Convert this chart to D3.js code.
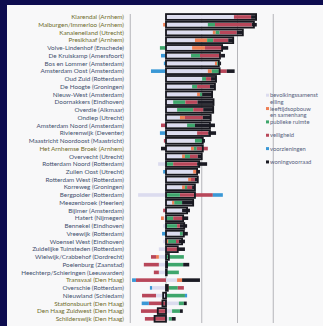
<!DOCTYPE html>
<html>
<head>
<meta charset="utf-8">
<script src="https://cdn.jsdelivr.net/npm/d3@7"></script>
<style>
body { margin: 0; background: #0d0c4f; }
svg { display: block; }
</style>
</head>
<body>
<div id="chart"></div>
<script>
var width = 323,
	height = 326;

// wijken, van boven naar beneden
var wijken = [
	"Klarendal (Arnhem)", "Malburgen/Immerloo (Arnhem)", "Kanaleneiland (Utrecht)", "Presikhaaf (Arnhem)",
	"Volve-Lindenhof (Enschede)", "De Kruiskamp (Amersfoort)", "Bos en Lommer (Amsterdam)", "Amsterdam Oost (Amsterdam)",
	"Oud Zuid (Rotterdam)", "De Hoogte (Groningen)", "Nieuw-West (Amsterdam)", "Doornakkers (Eindhoven)",
	"Overdie (Alkmaar)", "Ondiep (Utrecht)", "Amsterdam Noord (Amsterdam)", "Rivierenwijk (Deventer)",
	"Maastricht Noordoost (Maastricht)", "Het Arnhemse Broek (Arnhem)", "Overvecht (Utrecht)", "Rotterdam Noord (Rotterdam)",
	"Zuilen Oost (Utrecht)", "Rotterdam West (Rotterdam)", "Korreweg (Groningen)", "Bergpolder (Rotterdam)",
	"Meezenbroek (Heerlen)", "Bijlmer (Amsterdam)", "Hatert (Nijmegen)", "Bennekel (Eindhoven)",
	"Vreewijk (Rotterdam)", "Woensel West (Eindhoven)", "Zuidelijke Tuinsteden (Rotterdam)", "Wielwijk/Crabbehof (Dordrecht)",
	"Poelenburg (Zaanstad)", "Heechterp/Schieringen (Leeuwarden)", "Transvaal (Den Haag)", "Overschie (Rotterdam)",
	"Nieuwland (Schiedam)", "Stationsbuurt (Den Haag)", "Den Haag Zuidwest (Den Haag)", "Schilderswijk (Den Haag)"
];

var dimensies = ["bevolkingssamenstelling", "leeftijdsopbouw en samenhang", "publieke ruimte", "veiligheid", "voorzieningen", "woningvoorraad"];

// bijdrage per dimensie, zelfde volgorde als wijken
var bevolking = [19.0, 11.7, 13.1, 8.1, 7.3, 7.0, 13.7, 11.7, 10.1, 7.3, 8.7, 2.0, 3.1, 3.9, 5.9, 8.7, 8.1, 7.0, 4.5, -2.2,
	7.6, 6.2, 4.5, -7.8, 1.7, 4.5, -0.6, -0.8, 3.9, -0.8, -2.0, -2.0, -2.0, -2.0, 3.1, -3.9, -2.8, 3.6, 1.7, 0.8];
var leeftijd = [0, -0.8, 0.8, 3.4, 3.6, 0, 0.6, 1.1, 0, 0, 0.8, 0, 0, 1.4, 0, 0, 0, 0.8, 0.8, 0,
	1.1, 0.8, 0.8, 0, 0.6, 0, -0.8, 0, 0, 0.6, 0, -0.8, 0, 0, 1.4, 0.8, 0, 0, 0, 0];
var publiek = [0, 2.0, 1.1, 1.7, -1.7, 2.5, 0.8, 2.0, 1.1, 1.4, 0.6, 3.4, 4.5, 0, 2.2, 0, 2.0, 0.8, 1.4, 2.0,
	0, 0, 0.6, 3.9, 2.2, 0, 2.0, 3.1, 0.8, 2.2, 0, 5.0, 4.8, 3.6, 0, 2.5, 5.3, 1.4, 2.2, 0.8];
var veiligheid = [4.8, 10.3, 4.8, 4.2, 4.8, 5.9, 0, 2.2, 1.4, 3.6, 0, 3.4, 2.8, 5.0, -1.4, 3.1, -0.6, 3.1, 2.2, 6.7,
	0, 1.1, 1.4, 9.2, 0, -0.8, 2.8, 0.8, 0, 0.8, 3.1, -1.4, -4.2, -1.4, -8.4, 1.7, -3.9, -4.8, -7.0, -5.9];
var voorzieningen = [0, 0, 0, 0, 0, -1.4, -0.6, -4.2, 0, 0, 0, 0, 0, 0, 0, -1.7, 0, 0, 0, 0,
	-0.8, 0, 0, 2.8, 0, 0, 0, 0, -1.1, 0, 0, 0, 0, 0, -1.1, -0.6, 0.6, -2.0, 0, 0];
var woningen = [1.4, 1.4, 1.7, 1.4, 1.7, 1.1, 0.3, 2.2, 1.4, 1.4, 2.8, 4.5, 2.8, 2.2, 5.6, 2.2, 0.8, -1.4, 1.1, 2.8,
	0.8, 0.8, 0.8, 0, 3.1, 2.2, 1.4, 2.0, 1.4, 1.7, 2.2, 0, 1.7, 0, 5.0, 0, 0, 0.8, 0.8, 1.1];

var ticks = [-10, 0, 10, 20, 30];

var legendLabels = [["bevolkingssamenst", "elling"], ["leeftijdsopbouw", "en samenhang"], ["publieke ruimte"],
	["veiligheid"], ["voorzieningen"], ["woningvoorraad"]];

var kleuren = ["#dcdcef", "#ef7f55", "#3ea66c", "#b8475a", "#3a98d6", "#1b1b24"];
var olijf = ["Arnhem", "Den Haag", "Kanaleneiland"];

var series = [bevolking, leeftijd, publiek, veiligheid, voorzieningen, woningen];

// segmenten: positief naar rechts, negatief naar links stapelen
var rows = wijken.map(function(naam, i){
	var pos = 0, neg = 0, segs = [];
	series.forEach(function(s, d){
		var v = s[i];
		if (v > 0) { segs.push({d: d, x0: pos, x1: pos + v}); pos += v; }
		else if (v < 0) { segs.push({d: d, x0: neg + v, x1: neg}); neg += v; }
	});
	return {naam: naam, segs: segs, totaal: pos + neg};
});

var svg = d3.select("#chart").append("svg")
	.attr("width", width)
	.attr("height", height);

svg.append("rect").attr("width", width).attr("height", height).attr("fill", "#0d0c4f");
svg.append("rect").attr("x", 7).attr("y", 5).attr("width", width - 7).attr("height", height - 5).attr("fill", "#f8f8f9");

var x = d3.scaleLinear().domain([-10, 30]).range([130.25, 273.25]);
var y = d3.scaleBand().domain(wijken).range([13.1, 322.7]);
var bh = y.bandwidth();

svg.selectAll(".grid")
	.data(ticks)
	.enter().append("line")
	.attr("x1", function(d){ return x(d); })
	.attr("x2", function(d){ return x(d); })
	.attr("y1", 14)
	.attr("y2", 323)
	.attr("stroke", "#a4a4aa")
	.attr("stroke-width", 0.8);

var row = svg.selectAll(".row")
	.data(rows)
	.enter().append("g")
	.attr("transform", function(d){ return "translate(0," + (y(d.naam) + bh / 2) + ")"; });

row.selectAll(".seg")
	.data(function(d){ return d.segs; })
	.enter().append("rect")
	.attr("x", function(s){ return x(s.x0); })
	.attr("width", function(s){ return x(s.x1) - x(s.x0); })
	.attr("y", -1.8)
	.attr("height", 3.6)
	.attr("fill", function(s){ return kleuren[s.d]; });

row.append("rect")
	.attr("x", function(d){ return x(Math.min(0, d.totaal)); })
	.attr("width", function(d){ return Math.abs(x(d.totaal) - x(0)); })
	.attr("y", -2.9)
	.attr("height", 5.8)
	.attr("fill", "none")
	.attr("stroke", "#18181f")
	.attr("stroke-width", 1.8);

row.append("text")
	.attr("x", 124)
	.attr("dy", "0.35em")
	.attr("text-anchor", "end")
	.style("font-family", "Lato, 'Open Sans', sans-serif")
	.style("font-size", "6.3px")
	.attr("fill", function(d){
		var o = olijf.some(function(w){ return d.naam.indexOf(w) >= 0; });
		return o ? "#6f6c2c" : "#43506e";
	})
	.text(function(d){ return d.naam; });

var legend = svg.selectAll(".legend")
	.data(dimensies)
	.enter().append("g")
	.attr("transform", function(d, i){ return "translate(266," + (95.3 + i * 13.35) + ")"; });

legend.append("rect")
	.attr("x", 0).attr("y", -1.6)
	.attr("width", 3).attr("height", 3)
	.attr("fill", function(d, i){ return kleuren[i]; });

legend.selectAll("text")
	.data(function(d, i){ return legendLabels[i]; })
	.enter().append("text")
	.attr("x", 4)
	.attr("y", function(t, j){ return j * 6.7; })
	.attr("dy", "0.35em")
	.style("font-family", "Lato, 'Open Sans', sans-serif")
	.style("font-size", "5.8px")
	.attr("fill", "#56617d")
	.text(function(t){ return t; });
</script>
</body>
</html>
